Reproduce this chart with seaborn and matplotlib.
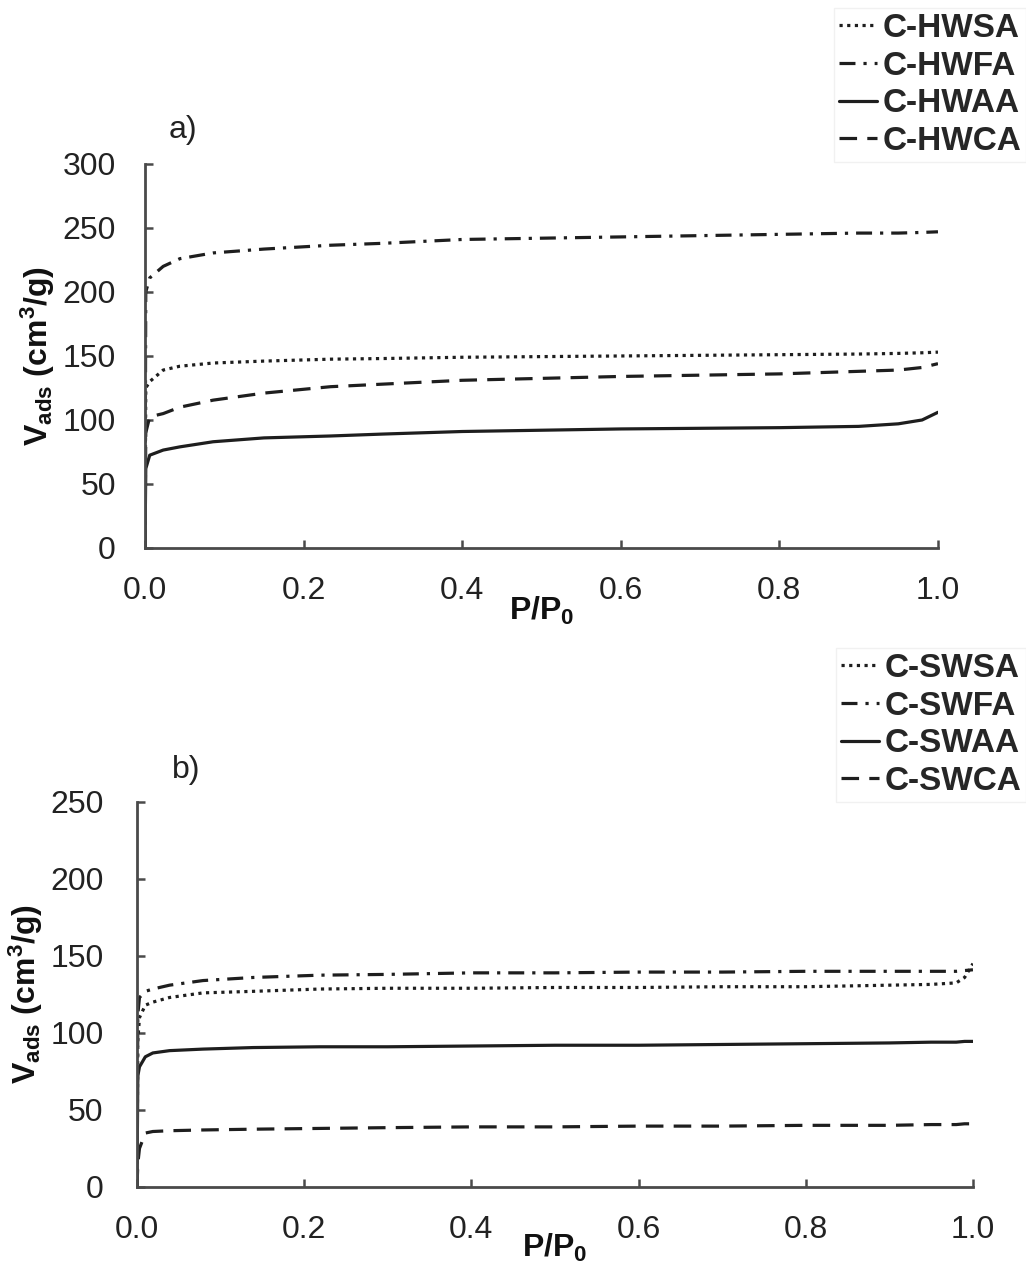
import matplotlib
matplotlib.use("Agg")
import matplotlib.pyplot as plt
import seaborn as sns
import pandas as pd

# N2 adsorption isotherms: relative pressure grid and adsorbed volumes (cm3/g)
p_hw = [0, 0.001, 0.006, 0.023, 0.044, 0.086, 0.15, 0.234, 0.3, 0.4, 0.5,
        0.6, 0.7, 0.8, 0.9, 0.95, 0.98, 1.0]
v_hwsa = [0, 125, 130, 139, 142, 144.5, 146, 147.5, 148, 149, 149.5, 150,
          150.5, 151, 151.5, 152, 152.5, 153]
v_hwfa = [0, 200, 211, 220, 226, 230.5, 233.5, 236.5, 238, 241, 242, 243,
          244, 245, 246, 246, 246.5, 247]
v_hwaa = [0, 62, 72.5, 76.5, 79, 83, 86, 87.5, 89, 91, 92, 93, 93.5, 94,
          95, 97, 100, 106]
v_hwca = [0, 90, 102.5, 105, 110, 115.5, 121, 126, 128, 131, 132.5, 134,
          135, 136, 138, 139, 141, 144]

p_sw = [0, 0.001, 0.003, 0.01, 0.019, 0.039, 0.079, 0.139, 0.219, 0.3, 0.4,
        0.5, 0.6, 0.7, 0.8, 0.9, 0.95, 0.98, 0.99, 1.0]
v_swsa = [0, 95, 110, 118, 120, 123, 126, 127, 128.5, 129, 129, 129.5,
          129.5, 130, 130, 131, 131.5, 132.5, 136, 145]
v_swfa = [0, 112, 123, 127, 128.5, 131, 134, 136, 137.5, 138, 139, 139,
          139.5, 139.5, 140, 140, 140, 140, 140.5, 141]
v_swaa = [0, 72, 78, 84.5, 87, 88.5, 89.5, 90.5, 91, 91, 91.5, 92, 92,
          92.5, 93, 93.5, 94, 94, 94.5, 94.5]
v_swca = [0, 15, 25, 35, 36, 36.5, 37, 37.5, 38, 38.5, 39, 39, 39.5, 39.5,
          40, 40, 40.5, 40.5, 41, 41]

labels_hw = ["C-HWSA", "C-HWFA", "C-HWAA", "C-HWCA"]
labels_sw = ["C-SWSA", "C-SWFA", "C-SWAA", "C-SWCA"]
x_ticks = [0.0, 0.2, 0.4, 0.6, 0.8, 1.0]
x_ticklabels = ["0.0", "0.2", "0.4", "0.6", "0.8", "1.0"]
y_ticks_a = [0, 50, 100, 150, 200, 250, 300]
y_ticks_b = [0, 50, 100, 150, 200, 250]

sns.set_theme(style="white")
plt.rcParams["font.family"] = ["Liberation Sans", "DejaVu Sans"]
plt.rcParams["mathtext.fontset"] = "custom"
plt.rcParams["mathtext.rm"] = "Liberation Sans"
plt.rcParams["mathtext.bf"] = "Liberation Sans:bold"
plt.rcParams["mathtext.it"] = "Liberation Sans:italic"
plt.rcParams["xtick.direction"] = "in"
plt.rcParams["ytick.direction"] = "in"


def long_frame(p, series, names):
    rows = []
    for name, vals in zip(names, series):
        for x, y in zip(p, vals):
            rows.append({"p": x, "v": y, "sample": name})
    return pd.DataFrame(rows)


def dash_map(names):
    styles = [(1, 1.4), (5, 2.5, 1, 2.5), "", (5.5, 3.2)]
    return dict(zip(names, styles))


ink = "#1e1e1e"
spine = "#4a4a4a"

fig = plt.figure(figsize=(10.26, 12.65), dpi=100)
ax_a = fig.add_axes([0.1413, 0.5668, 0.7729, 0.3036])
ax_b = fig.add_axes([0.1335, 0.0617, 0.8148, 0.3044])

panels = [
    (ax_a, long_frame(p_hw, [v_hwsa, v_hwfa, v_hwaa, v_hwca], labels_hw),
     labels_hw, (0, 300), y_ticks_a, "a)", (183 / 1026, 1 - 130 / 1265),
     (1.0, 1 - 8 / 1265), 21, -0.122),
    (ax_b, long_frame(p_sw, [v_swsa, v_swfa, v_swaa, v_swca], labels_sw),
     labels_sw, (0, 250), y_ticks_b, "b)", (186 / 1026, 1 - 770 / 1265),
     (1.0, 1 - 648 / 1265), 24, -0.117),
]

for ax, df, names, ylim, yticks, tag, tag_xy, leg_xy, ypad, xlab_y in panels:
    sns.lineplot(data=df, x="p", y="v", style="sample", style_order=names,
                 dashes=dash_map(names), color=ink, linewidth=2.3,
                 estimator=None, sort=False, ax=ax)
    ax.set_xlim(0, 1.0)
    ax.set_ylim(*ylim)
    ax.set_xticks(x_ticks)
    ax.set_xticklabels(x_ticklabels)
    ax.set_yticks(yticks)
    for s in ["top", "right"]:
        ax.spines[s].set_visible(False)
    for s in ["left", "bottom"]:
        ax.spines[s].set_color(spine)
        ax.spines[s].set_linewidth(2)
    ax.tick_params(axis="both", which="major", direction="in", length=6,
                   width=1.8, color=spine, labelsize=23,
                   labelcolor="#222222", bottom=True, left=True)
    ax.tick_params(axis="x", pad=20)
    ax.tick_params(axis="y", pad=ypad)
    ax.set_xlabel(r"P/P$_{\mathbf{0}}$", fontsize=23, fontweight="bold",
                  color="#111111", va="top")
    ax.set_ylabel(r"V$_{\mathbf{ads}}$ (cm$^{\mathbf{3}}$/g)", fontsize=23,
                  fontweight="bold", labelpad=4, color="#111111")
    ax.xaxis.set_label_coords(0.5, xlab_y)
    fig.text(tag_xy[0], tag_xy[1], tag, fontsize=23, ha="center",
             va="center", color="#222222")

    handles, lbls = ax.get_legend_handles_labels()
    ax.get_legend().remove()
    leg = fig.legend(handles, lbls, loc="upper right", bbox_to_anchor=leg_xy,
                     prop={"size": 24, "weight": "bold"}, frameon=True,
                     fancybox=False, handlelength=1.15, handletextpad=0.15,
                     labelspacing=0.2, borderpad=0.15, borderaxespad=0)
    leg.get_frame().set_edgecolor("#eeeeee")
    leg.get_frame().set_linewidth(1)
    for line in leg.get_lines():
        line.set_linewidth(2.3)

fig.savefig("out.png", dpi=100)
